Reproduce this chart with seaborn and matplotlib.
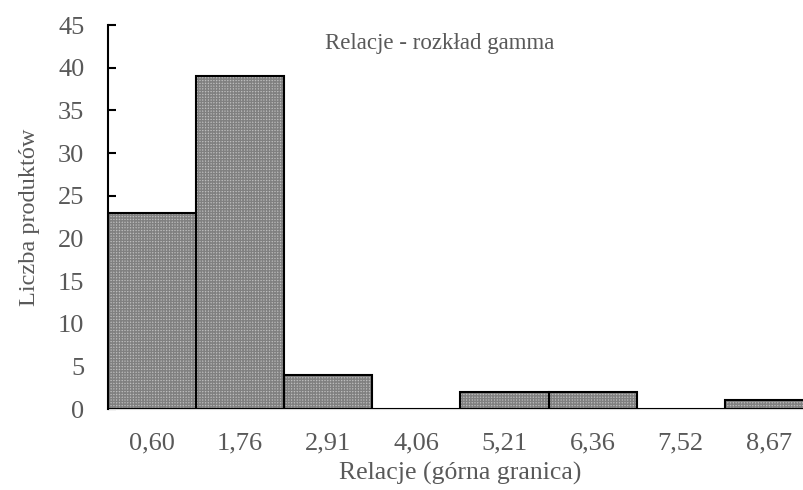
import matplotlib
matplotlib.use("Agg")
import matplotlib.pyplot as plt
from matplotlib.patches import Rectangle
import seaborn as sns
import pandas as pd

categories = ["0,60", "1,76", "2,91", "4,06", "5,21", "6,36", "7,52", "8,67"]
counts = [23, 39, 4, 0, 2, 2, 0, 1]
title = "Relacje - rozkład gamma"
xlabel = "Relacje (górna granica)"
ylabel = "Liczba produktów"

sns.set_theme(style="white")
plt.rcParams["font.family"] = ["Liberation Serif", "DejaVu Serif"]

df = pd.DataFrame({"cat": categories, "n": counts})

fig = plt.figure(figsize=(8.04, 4.90), dpi=100)
ax = fig.add_axes([108/804, 1-409/490, (813-108)/804, (409-25)/490])
sns.barplot(data=df, x="cat", y="n", ax=ax, color="#a6a6a6", width=1.0,
            saturation=1, edgecolor="black", linewidth=1.5, zorder=3)

bars = list(ax.patches)
for p in bars:
    p.set_facecolor((0.74, 0.74, 0.74, 1.0))
    p.set_edgecolor("none")
    p.set_zorder(2)
    h = Rectangle(p.get_xy(), p.get_width(), p.get_height(), facecolor="none",
                  edgecolor="#808080", hatch="++++++", linewidth=0, zorder=2.5)
    ax.add_patch(h)
    edge = Rectangle(p.get_xy(), p.get_width(), p.get_height(), facecolor="none",
                     edgecolor="black", linewidth=1.5, zorder=4)
    ax.add_patch(edge)

ax.set_xlim(-0.5, len(categories) - 0.5)
ax.set_ylim(0, 45)
ax.set_yticks(range(0, 46, 5))

tc = "#595959"
ax.tick_params(axis="y", direction="in", length=6, width=1.5, color="black",
               labelsize=19, labelcolor=tc, pad=17, left=True)
ax.tick_params(axis="x", length=0, labelsize=19, labelcolor=tc, pad=17)

for s in ["top", "right"]:
    ax.spines[s].set_visible(False)
ax.spines["left"].set_color("black")
ax.spines["left"].set_linewidth(1.5)
ax.spines["bottom"].set_color("#d9d9d9")
ax.spines["bottom"].set_linewidth(1.5)
ax.spines["left"].set_zorder(5)

ax.set_xlabel(xlabel, fontsize=18.5, color=tc, labelpad=5)
ax.set_ylabel(ylabel, fontsize=17.5, color=tc, labelpad=13)
fig.text(440/804, 1-43/490, title, ha="center", va="center", fontsize=16.5, color=tc)

fig.savefig("out.png", dpi=100)
